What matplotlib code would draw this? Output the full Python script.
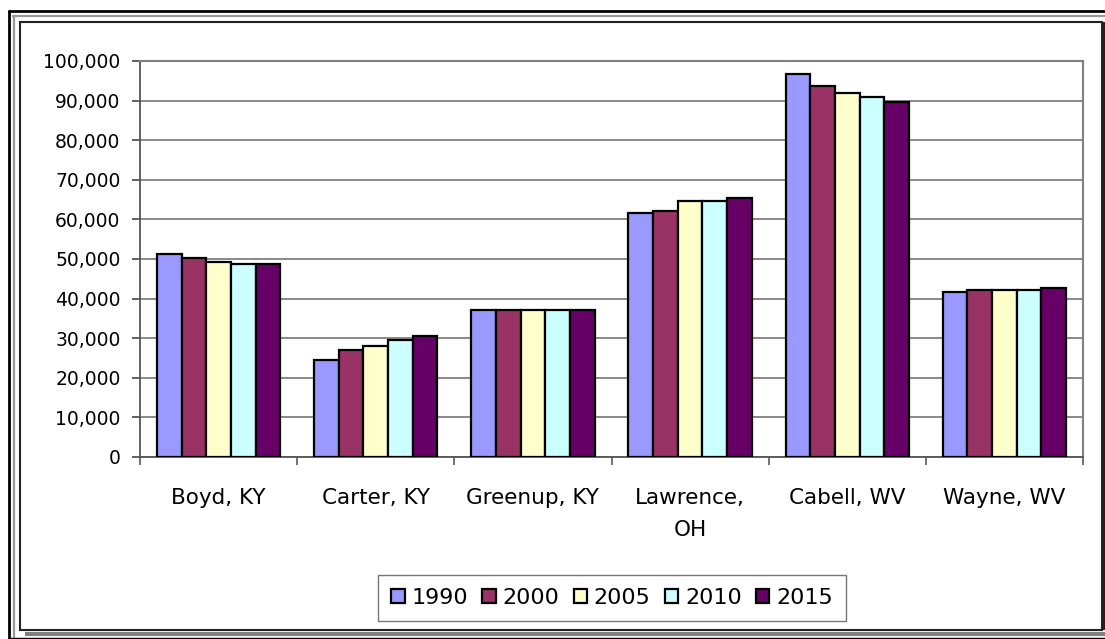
import numpy as np
import matplotlib.pyplot as plt
from matplotlib.lines import Line2D
from matplotlib.patches import Rectangle

counties = ['Boyd, KY', 'Carter, KY', 'Greenup, KY', 'Lawrence,\nOH', 'Cabell, WV', 'Wayne, WV']
years = ['1990', '2000', '2005', '2010', '2015']

pop_1990 = [51200, 24500, 37100, 61600, 96600, 41600]
pop_2000 = [50200, 27000, 37100, 62200, 93600, 42100]
pop_2005 = [49200, 28000, 37100, 64700, 92000, 42100]
pop_2010 = [48700, 29600, 37100, 64700, 91000, 42100]
pop_2015 = [48700, 30500, 37100, 65300, 89600, 42700]

colors = ['#9999FF', '#993366', '#FFFFCC', '#CCFFFF', '#660066']

W, H = 1105, 639
plt.rcParams['font.family'] = ['DejaVu Sans']
fig = plt.figure(figsize=(W / 100, H / 100), dpi=100)

# plot area in pixels (left, top, right, bottom)
pl, pt, pr, pb = 140, 61, 1083, 457
ax = fig.add_axes([pl / W, 1 - pb / H, (pr - pl) / W, (pb - pt) / H])

series = [pop_1990, pop_2000, pop_2005, pop_2010, pop_2015]
x = np.arange(len(counties))
bw = 0.157
for i, vals in enumerate(series):
    ax.bar(x + (i - 2) * bw, vals, width=bw, color=colors[i], edgecolor='black',
           linewidth=1.6, label=years[i], zorder=3)

ax.set_xlim(-0.5, len(counties) - 0.5)
ax.set_ylim(0, 100000)
ax.set_yticks(np.arange(0, 100001, 10000))
ax.set_yticklabels([f'{v:,}' for v in range(0, 100001, 10000)], fontsize=13.5)
ax.yaxis.grid(True, color='#808080', linewidth=1.3, zorder=0)
ax.tick_params(axis='y', length=6, width=1.3, color='#555555', pad=8)

ax.set_xticks(x)
ax.set_xticklabels(counties, fontsize=15.5, linespacing=1.75)
ax.set_xticks(np.arange(-0.5, len(counties), 1), minor=True)
ax.tick_params(axis='x', which='major', length=0, pad=22)
ax.tick_params(axis='x', which='minor', length=6, width=1.3, color='#666666')

for s in ['top', 'right']:
    ax.spines[s].set_color('#808080')
    ax.spines[s].set_linewidth(1.5)
for s in ['left', 'bottom']:
    ax.spines[s].set_color('#555555')
    ax.spines[s].set_linewidth(1.3)

leg = ax.legend(loc='center', bbox_to_anchor=(612 / W, 1 - 598 / H), bbox_transform=fig.transFigure,
                ncol=5, fontsize=16, frameon=True, fancybox=False, edgecolor='#555555',
                handlelength=0.6, handleheight=0.6, handletextpad=0.3, columnspacing=0.65,
                borderpad=0.6)
leg.get_frame().set_linewidth(1.0)
for h in leg.legend_handles:
    h.set_linewidth(1.6)


# decorative frame around the chart, given in pixels from the top-left
def hline(x0, x1, y, color, lw):
    fig.add_artist(Line2D([x0 / W, x1 / W], [1 - y / H, 1 - y / H], color=color, linewidth=lw,
                          solid_capstyle='butt', transform=fig.transFigure))


def vline(x, y0, y1, color, lw):
    fig.add_artist(Line2D([x / W, x / W], [1 - y0 / H, 1 - y1 / H], color=color, linewidth=lw,
                          solid_capstyle='butt', transform=fig.transFigure))


hline(8, W, 10.5, 'black', 2.0)
vline(8.5, 10, H, 'black', 2.0)
hline(12, W, 15.5, '#999999', 1.6)
vline(13.5, 15, H, '#999999', 1.6)
hline(8, W, 638, 'black', 1.0)

fig.add_artist(Rectangle((20 / W, 1 - 630 / H), (1102 - 20) / W, (630 - 22) / H, fill=False,
                         edgecolor='#222222', linewidth=1.5, transform=fig.transFigure))
hline(25, W, 633.5, '#808080', 3.0)
vline(1104, 22, 630, '#222222', 1.5)

fig.savefig('out.png', dpi=100)
